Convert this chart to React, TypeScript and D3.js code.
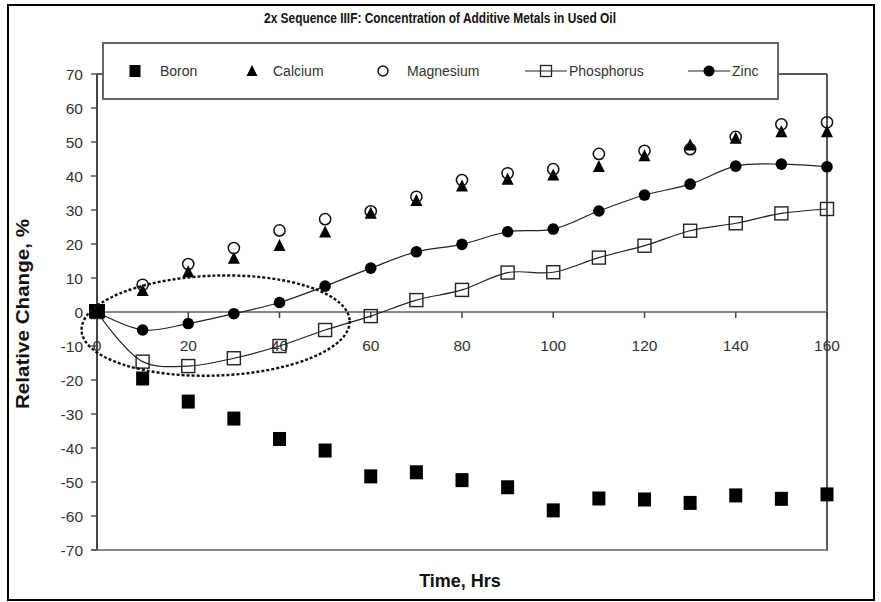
import React from "react";
import * as d3 from "d3";

const hours = [0, 10, 20, 30, 40, 50, 60, 70, 80, 90, 100, 110, 120, 130, 140, 150, 160];
const boron = [0, -19.4, -26.2, -31.2, -37.2, -40.6, -48.2, -47, -49.3, -51.4, -58.2, -54.7, -55, -56, -53.8, -54.8, -53.5];
const calcium = [0, 6.3, 11.8, 15.8, 19.5, 23.5, 29, 32.8, 37, 39, 40.3, 42.8, 45.9, 49.1, 51.1, 53, 53];
const magnesium = [0, 8, 14.1, 18.8, 24, 27.3, 29.6, 33.9, 38.8, 40.8, 42, 46.5, 47.4, 47.9, 51.5, 55.2, 55.8];
const phosphorus = [0, -14.6, -15.9, -13.6, -10, -5.3, -1.2, 3.5, 6.5, 11.6, 11.7, 16, 19.5, 23.9, 26.1, 29, 30.3];
const zinc = [0, -5.3, -3.4, -0.5, 2.8, 7.6, 12.9, 17.7, 19.9, 23.6, 24.4, 29.7, 34.4, 37.6, 42.9, 43.5, 42.7];

const xTicks = [0, 20, 40, 60, 80, 100, 120, 140, 160];
const yTicks = [70, 60, 50, 40, 30, 20, 10, 0, -10, -20, -30, -40, -50, -60, -70];
const legendLabels = ["Boron", "Calcium", "Magnesium", "Phosphorus", "Zinc"];

const title = "2x Sequence IIIF: Concentration of Additive Metals in Used Oil";
const xTitle = "Time, Hrs";
const yTitle = "Relative Change, %";

// annotation ellipse (data units)
const ellipseCenter = [26, -4];
const ellipseRadii = [29.4, 14.7];

const FONT = "'Liberation Sans', Arial, sans-serif";

export default function App() {
  const W = 881, H = 602;
  const x = d3.scaleLinear().domain([0, 160]).range([97, 827]);
  const y = d3.scaleLinear().domain([-70, 70]).range([550, 74]);
  const line = d3
    .line<number>()
    .x((_, i) => x(hours[i]))
    .y((d) => y(d))
    .curve(d3.curveCatmullRom.alpha(0.5));

  const tri = (cx: number, cy: number, s: number) =>
    `M${cx},${cy - s * 0.55}L${cx + s / 2},${cy + s * 0.45}L${cx - s / 2},${cy + s * 0.45}Z`;

  const y0 = y(0);
  const ecx = x(ellipseCenter[0]);
  const ecy = y(ellipseCenter[1]);
  const erx = x(ellipseRadii[0]) - x(0);
  const ery = y(0) - y(ellipseRadii[1]);

  const legY = 71;
  const legItems = [
    { mx: 135, tx: 160 },
    { mx: 252, tx: 273 },
    { mx: 383, tx: 407 },
    { mx: 546, tx: 569, l: [525, 567] },
    { mx: 709, tx: 732, l: [688, 730] },
  ];

  return (
    <svg
      width={W}
      height={H}
      style={{ position: "absolute", left: 0, top: 0, background: "#fff" }}
      fontFamily={FONT}
    >
      <rect x={0} y={0} width={W} height={H} fill="#fff" />
      <rect x={8} y={5} width={866} height={595} fill="none" stroke="#000" strokeWidth={2} />
      <text
        x={440}
        y={23}
        textAnchor="middle"
        fontWeight="bold"
        fontSize={14.5}
        fill="#111"
        textLength={352}
        lengthAdjust="spacingAndGlyphs"
      >
        {title}
      </text>

      {/* plot area frame */}
      <line x1={x(0)} x2={x(160)} y1={y(70)} y2={y(70)} stroke="#222" strokeWidth={1.5} />
      <line x1={x(160)} x2={x(160)} y1={y(70)} y2={y(-70) + 1} stroke="#222" strokeWidth={1.5} />
      <line x1={x(0) - 6} x2={x(160)} y1={y(-70)} y2={y(-70)} stroke="#888" strokeWidth={2} />
      <line x1={x(0)} x2={x(0)} y1={y(70)} y2={y(-70)} stroke="#444" strokeWidth={2} />

      {/* y ticks */}
      {yTicks.map((t) => (
        <g key={t}>
          <line x1={x(0) - 6} x2={x(0)} y1={y(t)} y2={y(t)} stroke="#555" strokeWidth={1.5} />
          <text x={83} y={y(t) + 5.5} textAnchor="end" fontSize={15.5} fill="#333">
            {t}
          </text>
        </g>
      ))}

      {/* x axis at zero */}
      <line x1={x(0)} x2={x(160)} y1={y0} y2={y0} stroke="#888" strokeWidth={2} />
      {xTicks.map((t) => (
        <g key={t}>
          <line x1={x(t)} x2={x(t)} y1={y0} y2={y0 + 6} stroke="#444" strokeWidth={1.5} />
          <text x={x(t)} y={y0 + 39} textAnchor="middle" fontSize={15.5} fill="#333">
            {t}
          </text>
        </g>
      ))}

      {/* lines */}
      <path d={line(phosphorus) || ""} fill="none" stroke="#222" strokeWidth={1.2} />
      <path d={line(zinc) || ""} fill="none" stroke="#222" strokeWidth={1.2} />

      {/* calcium */}
      {calcium.map((v, i) => (
        <path key={"c" + i} d={tri(x(hours[i]), y(v), 12)} fill="#000" />
      ))}
      {/* magnesium */}
      {magnesium.map((v, i) => (
        <circle key={"m" + i} cx={x(hours[i])} cy={y(v)} r={5.6} fill="none" stroke="#111" strokeWidth={1.5} />
      ))}
      {/* phosphorus */}
      {phosphorus.map((v, i) => (
        <rect key={"p" + i} x={x(hours[i]) - 6.5} y={y(v) - 6.5} width={13} height={13} fill="none" stroke="#222" strokeWidth={1.4} />
      ))}
      {/* zinc */}
      {zinc.map((v, i) => (
        <circle key={"z" + i} cx={x(hours[i])} cy={y(v)} r={5.8} fill="#000" />
      ))}
      {/* boron */}
      {boron.map((v, i) => {
        const s = i === 0 ? 16 : 13;
        return <rect key={"b" + i} x={x(hours[i]) - s / 2} y={y(v) - s / 2} width={s} height={s + (i === 0 ? -2 : 1)} fill="#000" />;
      })}

      {/* dotted ellipse annotation */}
      <ellipse
        cx={ecx}
        cy={ecy}
        rx={erx}
        ry={ery}
        transform={`rotate(-2 ${ecx} ${ecy})`}
        fill="none"
        stroke="#111"
        strokeWidth={2.4}
        strokeDasharray="3 2"
      />

      {/* legend */}
      <rect x={103} y={43} width={675} height={56} fill="#fff" stroke="#666" strokeWidth={2} />
      {legItems.map((it, i) => (
        <g key={legendLabels[i]}>
          {it.l && <line x1={it.l[0]} x2={it.l[1]} y1={legY} y2={legY} stroke="#222" strokeWidth={1.2} />}
          {i === 0 && <rect x={it.mx - 5.5} y={legY - 6} width={11} height={12} fill="#000" />}
          {i === 1 && <path d={tri(it.mx, legY, 11)} fill="#000" />}
          {i === 2 && <circle cx={it.mx} cy={legY} r={5} fill="none" stroke="#111" strokeWidth={1.5} />}
          {i === 3 && <rect x={it.mx - 5.5} y={legY - 5.5} width={11} height={11} fill="none" stroke="#222" strokeWidth={1.3} />}
          {i === 4 && <circle cx={it.mx} cy={legY} r={5.5} fill="#000" />}
          <text x={it.tx} y={legY + 5} fontSize={14} fill="#333">
            {legendLabels[i]}
          </text>
        </g>
      ))}

      {/* axis titles */}
      <text x={460} y={587} textAnchor="middle" fontWeight="bold" fontSize={18} fill="#111">
        {xTitle}
      </text>
      <text
        transform={`translate(29,314) rotate(-90)`}
        textAnchor="middle"
        fontWeight="bold"
        fontSize={18}
        fill="#111"
        textLength={190}
        lengthAdjust="spacingAndGlyphs"
      >
        {yTitle}
      </text>
    </svg>
  );
}
